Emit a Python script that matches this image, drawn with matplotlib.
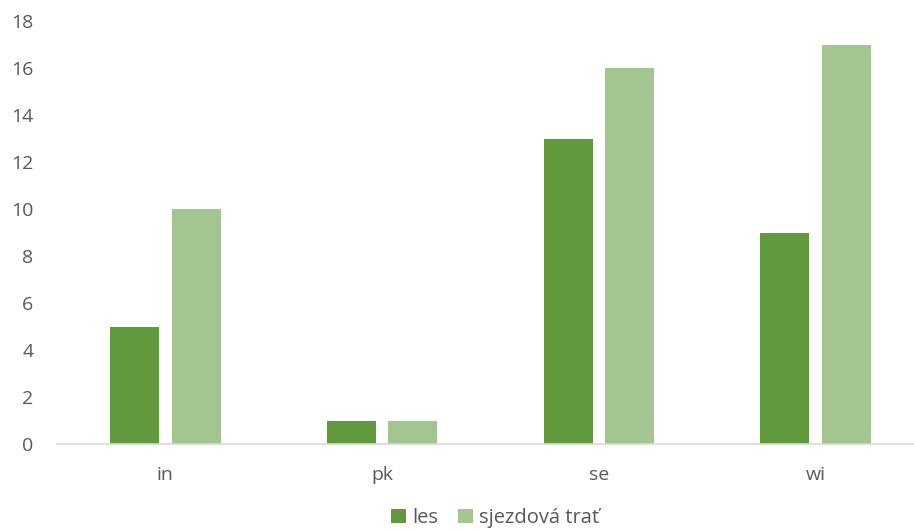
import numpy as np
import matplotlib.pyplot as plt

categories = ['in', 'pk', 'se', 'wi']
les = [5, 1, 13, 9]
sjezdova = [10, 1, 16, 17]
series_names = ['les', 'sjezdová trať']

plt.rcParams['font.family'] = ['Open Sans', 'DejaVu Sans']
text_color = '#595959'

fig = plt.figure(figsize=(9.14, 5.30), dpi=100)
ax = fig.add_axes([57 / 914, 1 - 444 / 530, 867 / 914, 423 / 530])

x = np.arange(len(categories))
width = 0.226
offset = 0.142
ax.bar(x - offset, les, width, color='#619A3D', label=series_names[0])
ax.bar(x + offset, sjezdova, width, color='#A3C690', label=series_names[1])

ax.set_xlim(-0.5, len(categories) - 0.5)
ax.set_ylim(0, 18)
ax.set_yticks(range(0, 19, 2))
ax.set_xticks(x)
ax.set_xticklabels(categories)

for side in ['top', 'right', 'left']:
    ax.spines[side].set_visible(False)
ax.spines['bottom'].set_color('#D9D9D9')
ax.spines['bottom'].set_linewidth(1.2)
ax.tick_params(axis='both', length=0, labelsize=14, colors=text_color)
ax.tick_params(axis='y', pad=17)
ax.tick_params(axis='x', pad=16)

fig.legend(loc='center', bbox_to_anchor=(495 / 914, 1 - 518 / 530), ncol=2,
           frameon=False, fontsize=14.5, handlelength=0.75, handleheight=0.75,
           handletextpad=0.3, columnspacing=1.0, labelcolor=text_color)

fig.savefig('out.png', dpi=100)
